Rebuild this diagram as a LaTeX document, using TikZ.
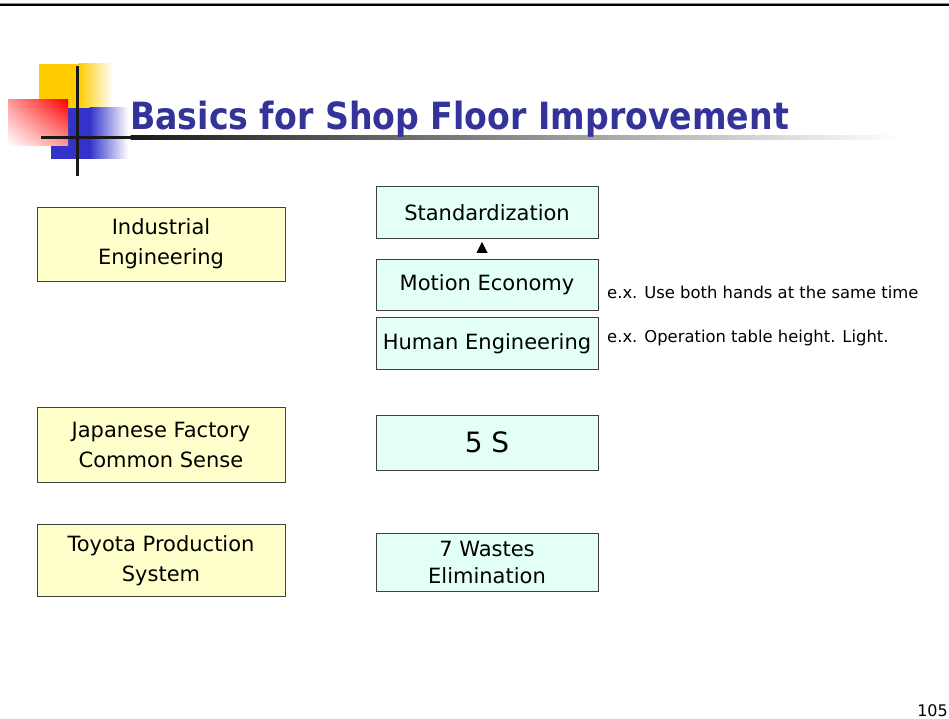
\documentclass[tikz,border=0pt]{standalone}
\usepackage{fontspec}
\setmainfont{DejaVu Sans}
\usepackage{tikz}
\usetikzlibrary{arrows.meta, positioning, shadings}
\usepackage{xcolor}
\definecolor{titleblue}{HTML}{333399}
\definecolor{boxyellow}{HTML}{FFFFCC}
\definecolor{boxmint}{HTML}{E2FFF8}
\definecolor{logoyellow}{HTML}{FFCC00}
\definecolor{logoblue}{HTML}{3333CC}
\definecolor{edgegray}{HTML}{404040}

\tikzset{
  basebox/.style={draw=edgegray, line width=0.9pt, inner sep=0pt, align=center,
                  font=\fontsize{21}{30}\selectfont},
  leftbox/.style={basebox, fill=boxyellow, minimum width=248pt, minimum height=74pt},
  rightbox/.style={basebox, fill=boxmint, minimum width=222pt, minimum height=52pt},
  note/.style={anchor=west, inner sep=0pt, font=\fontsize{16.4}{20}\selectfont}
}

\begin{document}
\begin{tikzpicture}[x=1pt, y=-1pt]
  \useasboundingbox (0,0) rectangle (949,719);

  % header rule
  \draw[black!45, line width=1pt] (0,3.5) -- (949,3.5);
  \draw[black, line width=2pt] (0,5) -- (949,5);

  % logo
  \fill[logoyellow] (39,64) rectangle (79,108);
  \shade[left color=logoyellow, right color=white] (78.5,64) rectangle (113,108);
  \fill[logoblue] (51,108) rectangle (90,159);
  \shade[left color=logoblue, right color=white] (89.5,108) rectangle (128,159);
  \shade[upper left=red!40, upper right=red, lower left=white, lower right=red!40]
    (8,100) rectangle (68,146);
  \fill[black!90] (41,136) rectangle (131,139.5);
  \shade[left color=black!90, right color=white] (130.5,136) rectangle (900,139.5);
  \fill[black!90] (75.5,66) rectangle (79,176);

  % title
  \node[anchor=base west, inner sep=0pt, text=titleblue,
        font=\fontsize{37.5}{40}\selectfont\bfseries] (title) at (130,130)
    {\scalebox{0.885}[1]{Basics for Shop Floor Improvement}};

  % left column
  \node[leftbox] (ie) at (161,244) {Industrial\\ Engineering};
  \node[leftbox, minimum height=75pt] (jfcs) at (161,445) {Japanese Factory\\ Common Sense};
  \node[leftbox, minimum height=72pt] (tps) at (161,560.5) {Toyota Production\\ System};

  % right column
  \node[rightbox] (std) at (487,212.5) {Standardization};
  \node[rightbox, minimum height=51pt] (motion) at (487,285) {Motion Economy};
  \node[rightbox] (human) at (487,343.5) {Human Engineering};
  \node[rightbox, minimum height=55pt, font=\fontsize{28}{32}\selectfont] (fives) at (487,442.5) {5 S};
  \node[rightbox, minimum height=58pt, font=\fontsize{21}{27}\selectfont] (wastes) at (487,562.5) {7 Wastes\\ Elimination};

  \draw[-{Triangle[width=11pt,length=11pt]}, line width=0.8pt, shorten <=7pt, shorten >=3pt]
    ([xshift=-5pt]motion.north) -- ([xshift=-5pt]std.south);

  % examples
  \node[note] (motionnote) at (607,292) {e.x. Use both hands at the same time};
  \node[note] (humannote) at (607,338) {e.x. Operation table height. Light.};

  % page number
  \node[anchor=base east, inner sep=0pt, font=\fontsize{16}{18}\selectfont] (pageno) at (948,716) {105};
\end{tikzpicture}
\end{document}
